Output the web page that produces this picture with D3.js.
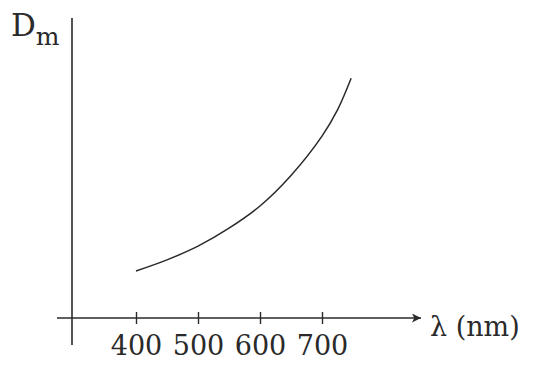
<!DOCTYPE html>
<html><head><meta charset="utf-8">
<script src="https://cdn.jsdelivr.net/npm/d3@7"></script>
<style>body{margin:0;background:#fff}svg{display:block}</style>
</head><body>
<script>
const lambda = [400, 450, 500, 550, 600, 650, 700, 725, 747];
const dm = [16.5, 20.4, 25.2, 31.5, 39.3, 50.0, 63.8, 73.0, 84.1];
const tickValues = [400, 500, 600, 700];
const xLabel = "λ (nm)";

const W = 534, H = 367;
const svg = d3.select("body").append("svg").attr("width", W).attr("height", H);
const x = d3.scaleLinear().domain([400, 700]).range([136, 322]);
const y = d3.scaleLinear().domain([0, 100]).range([318, 33]);
const ink = "#2a2a2a";
const font = "'DejaVu Serif', serif";

svg.append("defs").append("marker").attr("id", "arr")
  .attr("viewBox", "0 0 10 10").attr("refX", 10).attr("refY", 5)
  .attr("markerWidth", 11).attr("markerHeight", 9).attr("markerUnits", "userSpaceOnUse")
  .attr("orient", "auto")
  .append("path").attr("d", "M0,0 L10,5 L0,10 L2.5,5 Z").attr("fill", ink);

svg.append("line").attr("x1", 72).attr("x2", 72).attr("y1", 18).attr("y2", 345)
  .attr("stroke", ink).attr("stroke-width", 1.6);
svg.append("line").attr("x1", 57).attr("x2", 421).attr("y1", y(0)).attr("y2", y(0))
  .attr("stroke", ink).attr("stroke-width", 1.6).attr("marker-end", "url(#arr)");

const ax = svg.append("g").attr("transform", `translate(0,${y(0)})`)
  .call(d3.axisBottom(x).tickValues(tickValues).tickSize(6).tickFormat(d3.format("d")));
ax.select(".domain").remove();
ax.selectAll(".tick line").attr("y1", -6).attr("y2", 6).attr("stroke", ink).attr("stroke-width", 1.4);
ax.selectAll(".tick text").attr("y", 37).attr("dy", 0)
  .attr("font-family", font).attr("font-size", 27).attr("fill", ink);

svg.append("path").datum(lambda.map((l, i) => [l, dm[i]]))
  .attr("d", d3.line().x(d => x(d[0])).y(d => y(d[1])).curve(d3.curveCatmullRom))
  .attr("fill", "none").attr("stroke", ink).attr("stroke-width", 1.5);

const yl = svg.append("text").attr("x", 11).attr("y", 36).attr("font-family", font).attr("fill", ink);
yl.append("tspan").attr("font-size", 31).text("D");
yl.append("tspan").attr("font-size", 25).attr("dy", 9).text("m");

svg.append("text").attr("x", 430).attr("y", 336).attr("font-family", font)
  .attr("font-size", 27).attr("fill", ink).text(xLabel);
</script>
</body></html>
